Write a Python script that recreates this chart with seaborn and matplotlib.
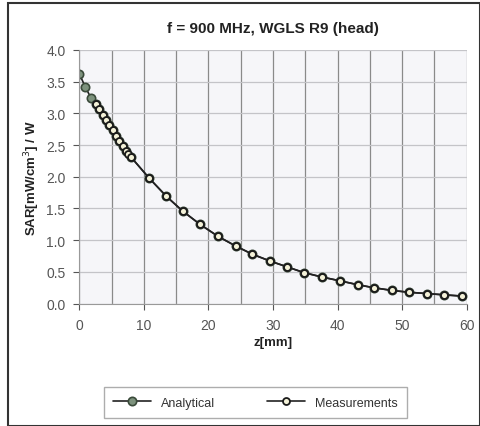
import numpy as np
import pandas as pd
import matplotlib
matplotlib.use("Agg")
import matplotlib.pyplot as plt
import seaborn as sns

# datos
z_analytical = [0.0, 0.9, 1.8, 2.6, 3.1, 3.6, 4.1, 4.6, 5.2, 5.7, 6.2, 6.7, 7.2, 8.0,
                10.8, 13.5, 16.0, 18.7, 21.5, 24.2, 26.8, 29.6, 32.2, 34.8, 37.6,
                40.4, 43.1, 45.7, 48.4, 51.1, 53.8, 56.5, 59.3]
sar_analytical = [3.62, 3.42, 3.24, 3.15, 3.06, 2.97, 2.89, 2.81, 2.73, 2.65, 2.57, 2.49, 2.41, 2.31,
                  1.98, 1.69, 1.46, 1.25, 1.06, 0.91, 0.78, 0.67, 0.58, 0.49, 0.42,
                  0.36, 0.30, 0.25, 0.21, 0.18, 0.16, 0.14, 0.12]

z_meas = [2.6, 3.1, 3.6, 4.1, 4.6, 5.2, 5.7, 6.2, 6.7, 7.2, 7.6, 8.0,
          10.8, 13.5, 16.0, 18.7, 21.5, 24.2, 26.8, 29.6, 32.2, 34.8, 37.6,
          40.4, 43.1, 45.7, 48.4, 51.1, 53.8, 56.5, 59.3]
sar_meas = [3.15, 3.06, 2.97, 2.89, 2.81, 2.73, 2.65, 2.57, 2.49, 2.41, 2.36, 2.31,
            1.98, 1.69, 1.46, 1.25, 1.06, 0.91, 0.78, 0.67, 0.58, 0.49, 0.42,
            0.36, 0.30, 0.25, 0.21, 0.18, 0.16, 0.14, 0.12]

df_a = pd.DataFrame({"z": z_analytical, "sar": sar_analytical})
df_m = pd.DataFrame({"z": z_meas, "sar": sar_meas})

sns.set_style("white")
plt.rcParams["font.family"] = ["Liberation Sans", "DejaVu Sans"]

fig = plt.figure(figsize=(4.81, 4.27), dpi=100)
ax = fig.add_axes([0.165, 0.2864, 0.805, 0.5946])
ax.set_facecolor("#f6f6f9")

sns.lineplot(data=df_a, x="z", y="sar", ax=ax, color="#222222", lw=1.2,
             marker="o", markersize=6, markerfacecolor="#7d927d",
             markeredgecolor="#3a4a3a", markeredgewidth=1.2, label="Analytical")
sns.lineplot(data=df_m, x="z", y="sar", ax=ax, color="#222222", lw=1.2,
             marker="o", markersize=5, markerfacecolor="#f4f2d8",
             markeredgecolor="#1a1a1a", markeredgewidth=1.3, label="Measurements")

ax.set_xlim(0, 60)
ax.set_ylim(0, 4.0)
ax.set_xticks(np.arange(0, 61, 10))
ax.set_xticks(np.arange(0, 61, 5), minor=True)
ax.set_yticks(np.arange(0, 4.01, 0.5))
ax.yaxis.set_major_formatter(matplotlib.ticker.FormatStrFormatter("%.1f"))
ax.grid(True, which="both", axis="x", color="#8a8a8a", lw=0.9)
ax.grid(True, which="major", axis="y", color="#c4c4c8", lw=0.9)
for s in ["top", "right"]:
    ax.spines[s].set_visible(False)
for s in ["left", "bottom"]:
    ax.spines[s].set_color("#999999")
ax.tick_params(axis="both", which="major", labelsize=10, colors="#555555",
               length=4, direction="out", pad=6)
ax.tick_params(axis="x", which="minor", length=0)
ax.tick_params(left=True, bottom=True)

ax.set_title("f = 900 MHz, WGLS R9 (head)", fontsize=11, fontweight="bold",
             color="#222222", pad=13)
ax.set_xlabel("z[mm]", fontsize=9.5, fontweight="bold", color="#222222", labelpad=3)
ax.set_ylabel("SAR[mW/cm$^3$] / W", fontsize=9.5, fontweight="bold", color="#222222", labelpad=3)

leg = ax.legend(loc="center", bbox_to_anchor=(0.455, -0.39), ncol=2, frameon=True,
                fancybox=False, fontsize=9, edgecolor="#999999",
                handlelength=3.0, columnspacing=4.2, borderpad=0.75, borderaxespad=0)
leg.get_frame().set_linewidth(1.0)
for t in leg.get_texts():
    t.set_color("#333333")

# marco exterior
fig.patches.append(plt.Rectangle((0.017, 0.0), 0.98, 0.99, transform=fig.transFigure,
                                 fill=False, edgecolor="#333333", lw=1.5))

fig.savefig("out.png", dpi=100)
